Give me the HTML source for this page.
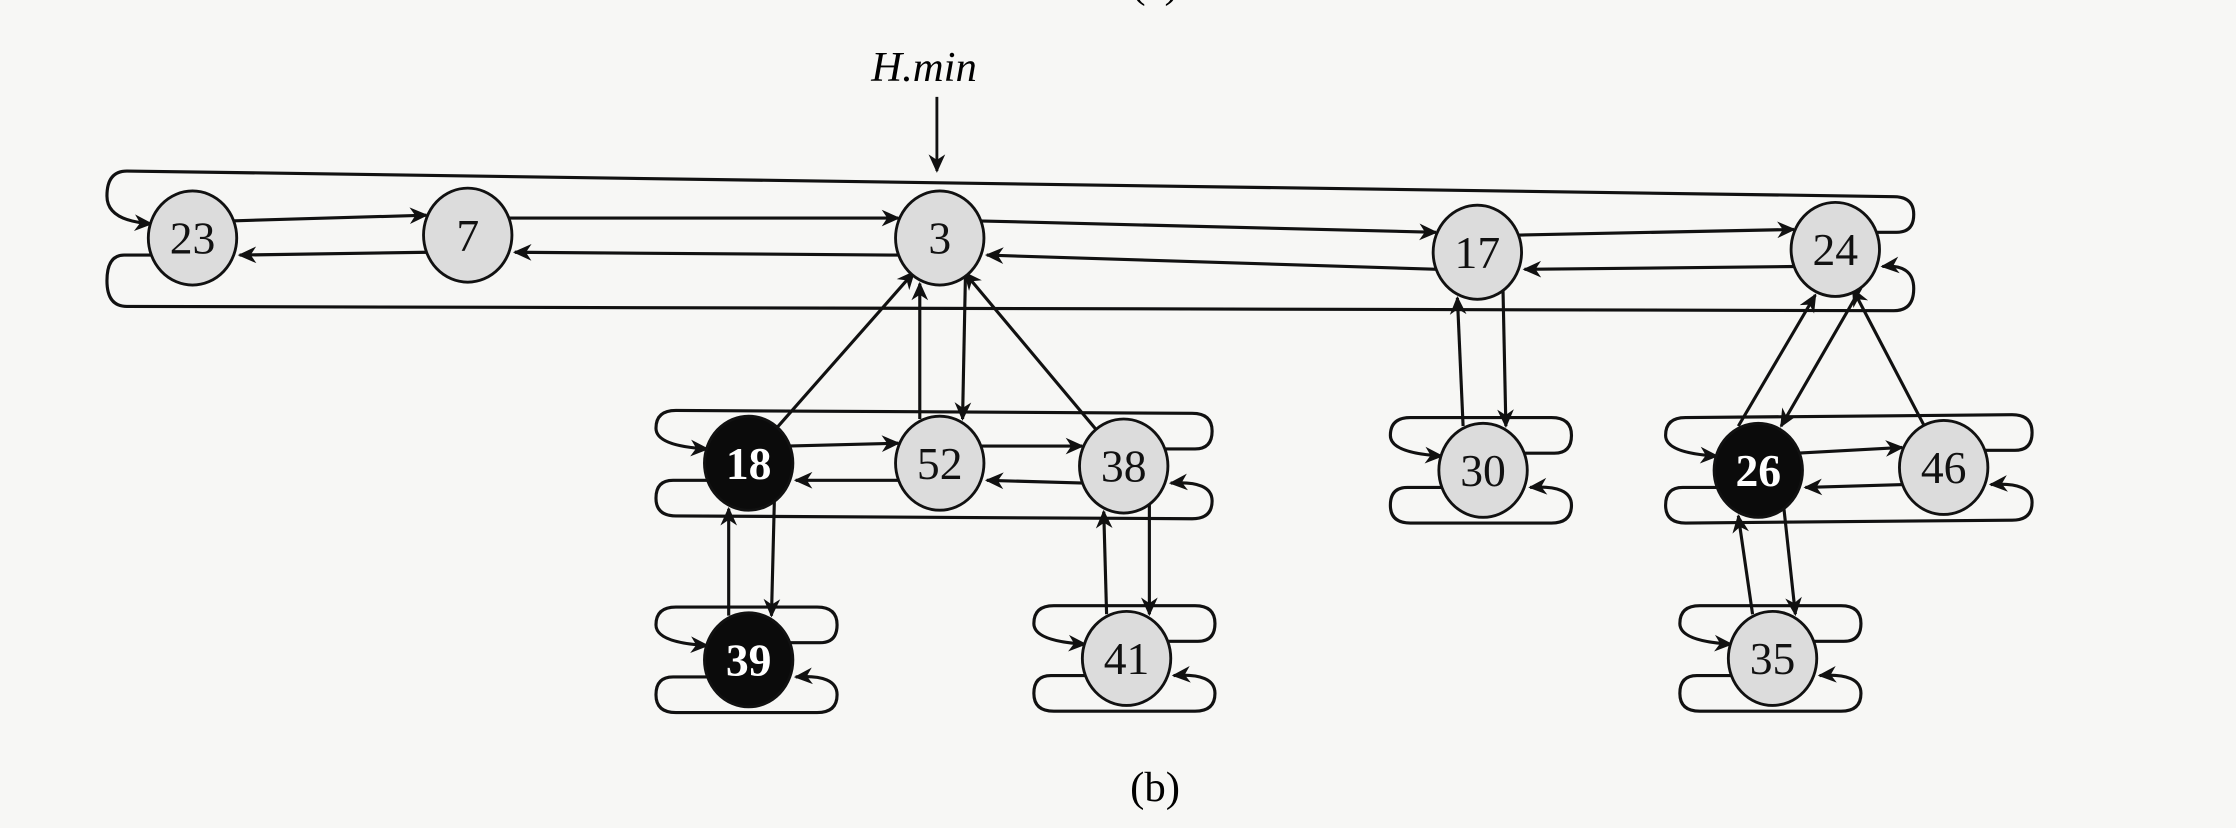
<!DOCTYPE html>
<html><head><meta charset="utf-8">
<style>
html,body{margin:0;padding:0;background:#f7f7f5;}
svg{display:block;}
text{font-family:"Liberation Serif",serif;}
</style></head>
<body>
<svg id="fig" width="2236" height="828" viewBox="0 0 1568 581" preserveAspectRatio="none" xmlns="http://www.w3.org/2000/svg">
<defs>
<marker id="ah" viewBox="0 0 10 10" refX="9" refY="5" markerWidth="15" markerHeight="13" markerUnits="userSpaceOnUse" orient="auto">
<path d="M0,0.5 L10,5 L0,9.5 L3,5 Z" fill="#111"/>
</marker>
</defs>
<g id="links" fill="none" stroke="#111" stroke-width="2.2"></g>
<g id="nodes"></g>
<text x="810" y="-2" font-size="30" text-anchor="middle">(a)</text>
<text x="648" y="57" font-size="30" font-style="italic" text-anchor="middle">H.min</text>
<line x1="657" y1="68" x2="657" y2="120" stroke="#111" stroke-width="2" marker-end="url(#ah)"/>
<text x="810" y="562" font-size="30" text-anchor="middle">(b)</text>
</svg>
<script>
const keys = [23,7,3,17,24,18,52,38,30,26,46,39,41,35];
const xs = [135,328,659,1036,1287,525,659,788,1040,1233,1363,525,790,1243];
const ys = [167,165,167,177,175,325,325,327,330,330,328,463,462,462];
const marked = [false,false,false,false,false,true,false,false,false,true,false,true,false,false];
const lists = [[0,1,2,3,4],[5,6,7],[8],[9,10],[11],[12],[13]];
const parentOf = [-1,-1,-1,-1,-1,2,2,2,3,4,4,5,7,9];
const childOf = [-1,-1,6,8,9,11,-1,12,-1,13,-1,-1,-1,-1];

const NS="http://www.w3.org/2000/svg";
const L=document.getElementById('links'), N=document.getElementById('nodes');
const RX=31, RY=33;
function mk(tag,attrs,parent){const e=document.createElementNS(NS,tag);for(const k in attrs)e.setAttribute(k,attrs[k]);parent.appendChild(e);return e;}
function path(d,arrow,name){
  const p=mk('path',{d:d},L);
  if(arrow)p.setAttribute('marker-end','url(#ah)');
  
  
}
lists.forEach((lst,li)=>{
  const first=lst[0], last=lst[lst.length-1];
  const isRoot=li===0;
  const tOff=isRoot?45:37, bOff=isRoot?48:37, lo=12;
  const xl=xs[first]-(isRoot?60:65), xr=xs[last]+(isRoot?55:62);
  for(let i=0;i<lst.length-1;i++){
    const a=lst[i], b=lst[i+1];
    path(`M${xs[a]+RX-4},${ys[a]-lo} L${xs[b]-RX+2},${ys[b]-lo-2}`,true,'next-link');
    path(`M${xs[b]-RX+3},${ys[b]+lo} L${xs[a]+RX+2},${ys[a]+lo}`,true,'prev-link');
  }
  const ty=isRoot?ys[first]-tOff-2:ys[first]-tOff, ty2=isRoot?ys[last]-tOff+8:ys[last]-tOff;
  const by=ys[first]+bOff, by2=isRoot?ys[last]+bOff-5:ys[last]+bOff;
  path(`M${xs[last]+RX-4},${ys[last]-lo} L${xr-12},${ys[last]-lo} Q${xr},${ys[last]-lo} ${xr},${(ys[last]-lo+ty2)/2} Q${xr},${ty2} ${xr-14},${ty2} L${xl+14},${ty} Q${xl},${ty} ${xl},${(ty+ys[first]-lo)/2} Q${xl},${ys[first]-lo} ${xs[first]-RX+2},${ys[first]-lo+2}`,true,'wrap-next-link');
  path(`M${xs[first]-RX+4},${ys[first]+lo} L${xl+12},${ys[first]+lo} Q${xl},${ys[first]+lo} ${xl},${(ys[first]+lo+by)/2} Q${xl},${by} ${xl+14},${by} L${xr-14},${by2} Q${xr},${by2} ${xr},${(by2+ys[last]+lo)/2} Q${xr},${ys[last]+lo-2} ${xs[last]+RX+2},${ys[last]+lo}`,true,'wrap-prev-link');
});
keys.forEach((k,i)=>{
  const p=parentOf[i]; if(p<0)return;
  const off=(childOf[p]===i)?-14:0;
  const dx=xs[p]-xs[i], dy=ys[p]-ys[i];
  if(off!==0){
    path(`M${xs[i]+off},${ys[i]-RY+2} L${xs[p]+off},${ys[p]+RY-1}`,true,'parent-link');
  } else {
    const len=Math.hypot(dx,dy), ux=dx/len, uy=dy/len;
    path(`M${xs[i]+ux*RX},${ys[i]+uy*RY} L${xs[p]-ux*RX*0.9},${ys[p]-uy*RY*0.95}`,true,'parent-link');
  }
});
keys.forEach((k,i)=>{
  const c=childOf[i]; if(c<0)return;
  path(`M${xs[i]+18},${ys[i]+RY-6} L${xs[c]+16},${ys[c]-RY+2}`,true,'child-link');
});
keys.forEach((k,i)=>{
  const g=mk('g',{},N);
  
  
  mk('ellipse',{cx:xs[i],cy:ys[i],rx:RX,ry:RY,fill:marked[i]?'#0b0b0b':'#dcdcdc',stroke:'#111','stroke-width':2},g);
  const t=mk('text',{x:xs[i],y:ys[i]+11,'font-size':32,'text-anchor':'middle',fill:marked[i]?'#fff':'#111','font-weight':marked[i]?'bold':'normal'},g);
  t.textContent=k;
});
</script>
</body></html>
